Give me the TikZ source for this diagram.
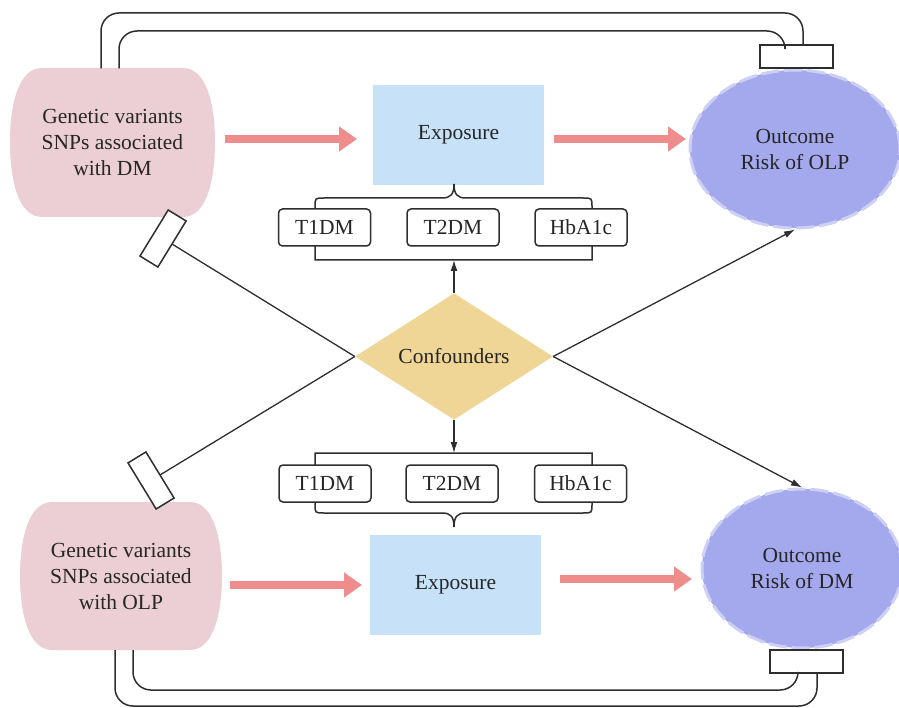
\documentclass[tikz,border=0pt]{standalone}
\usepackage{fontspec}
\setmainfont{Liberation Serif}
\usetikzlibrary{shapes.geometric,arrows.meta,calc}
\definecolor{pinkfill}{HTML}{EBCFD4}
\definecolor{pinkarrow}{HTML}{EF8C8C}
\definecolor{bluefill}{HTML}{C6E1F8}
\definecolor{goldfill}{HTML}{EFD696}
\definecolor{lavfill}{HTML}{A4A9EE}
\definecolor{lavborder}{HTML}{CDD0F5}
\definecolor{ink}{HTML}{262626}
\definecolor{linec}{HTML}{2E2E2E}
\begin{document}
\begin{tikzpicture}[x=1pt,y=-1pt,
  every node/.style={text=ink, font=\fontsize{21.5}{26}\selectfont, inner sep=0pt},
  gen/.style={minimum width=204, minimum height=148, align=center},
  expo/.style={fill=bluefill, minimum width=171, minimum height=100},
  outc/.style={ellipse, fill=lavfill, draw=lavborder, line width=3pt, dash pattern=on 18pt off 5pt, align=center},
  tagbox/.style={draw=linec, fill=white, line width=1.5pt, rounded corners=4pt, minimum width=92, minimum height=37},
  endbox/.style={draw=linec, fill=white, line width=1.5pt, minimum width=73, minimum height=23},
  fat/.style={pinkarrow, line width=8pt, -{Triangle[length=18pt,width=24pt]}},
  thin/.style={linec, line width=1.3pt},
  thinarrow/.style={thin, -{Latex[length=11pt,width=7pt]}},
  bracket/.style={linec, line width=1.5pt},
  loopline/.style={linec, line width=1.5pt, rounded corners=18pt}]
\useasboundingbox (0,0) rectangle (899,708);

% pink shapes
\fill[pinkfill] (42,68) -- (183,68) .. controls (205,68) and (215,100) .. (215,142)
  .. controls (215,185) and (205,217) .. (183,217) -- (42,217)
  .. controls (20,217) and (10,185) .. (10,142) .. controls (10,100) and (20,68) .. (42,68) -- cycle;
\fill[pinkfill] (52,502) -- (190,502) .. controls (212,502) and (222,535) .. (222,576)
  .. controls (222,617) and (212,650) .. (190,650) -- (52,650)
  .. controls (30,650) and (20,617) .. (20,576) .. controls (20,535) and (30,502) .. (52,502) -- cycle;
\node[gen] (gA) at (112.5,142.5) {Genetic variants\\SNPs associated\\with DM};
\node[gen] (gB) at (121,576) {Genetic variants\\SNPs associated\\with OLP};

% exposure boxes
\node[expo] (eA) at (458.5,135) {Exposure};
\node[expo] (eB) at (455.5,585) {Exposure};

% outcome ellipses
\node[outc, minimum width=210, minimum height=158] (oA) at (795,149) {Outcome\\Risk of OLP};
\node[outc, minimum width=200, minimum height=159] (oB) at (802,568.5) {Outcome\\Risk of DM};

% end boxes
\node[endbox] (sA) at (796.5,56.5) {};
\node[endbox] (sB) at (806.5,661.5) {};

% loop lines
\draw[loopline] ($(gA.north)+(-11.5,0)$) -- (101,13) -- (803,13) -- ($(sA.north)+(6.5,0)$);
\draw[loopline] ($(gA.north)+(6.5,0)$) -- (119,31) -- (785,31) -- ($(sA.north)+(-11.5,0)$);
\draw[loopline] ($(gB.south)+(-6,0)$) -- (115,706) -- (817,706) -- ($(sB.south)+(10.5,0)$);
\draw[loopline] ($(gB.south)+(12,0)$) -- (133,690) -- (798,690) -- ($(sB.south)+(-8.5,0)$);

% pink arrows
\coordinate (pa1) at (225,139); \coordinate (pa2) at (357,139);
\coordinate (pa3) at (554,139); \coordinate (pa4) at (686,139);
\coordinate (pb1) at (230,585); \coordinate (pb2) at (362,585);
\coordinate (pb3) at (560,579); \coordinate (pb4) at (692,579);
\draw[fat] (pa1) -- (pa2);
\draw[fat] (pa3) -- (pa4);
\draw[fat] (pb1) -- (pb2);
\draw[fat] (pb3) -- (pb4);

% brackets
\draw[bracket] (315,260) -- (315,207) .. controls (315,198) .. (324,198) -- (442,198)
  .. controls (451,198) and (454,194) .. (454,184) .. controls (454,194) and (457,198) .. (466,198)
  -- (583,198) .. controls (592,198) .. (592,207) -- (592,260) -- cycle;
\draw[bracket] (315,453) -- (592,453) -- (592,504) .. controls (592,513) .. (583,513) -- (466,513)
  .. controls (457,513) and (454,517) .. (454,527) .. controls (454,517) and (451,513) .. (442,513)
  -- (324,513) .. controls (315,513) .. (315,504) -- cycle;
\coordinate (brA) at (454,260);
\coordinate (brB) at (454,453);

% tag boxes
\node[tagbox] (t1a) at (324.5,227.5) {T1DM};
\node[tagbox] (t2a) at (453,227.5) {T2DM};
\node[tagbox] (hba) at (581,227.5) {HbA1c};
\node[tagbox] (t1b) at (325,483.5) {T1DM};
\node[tagbox] (t2b) at (452,483.5) {T2DM};
\node[tagbox] (hbb) at (580.5,483.5) {HbA1c};

% confounders
\node[diamond, fill=goldfill, minimum width=198, minimum height=117] (conf) at (454,356.5) {Confounders};

% connectors
\draw[thinarrow] (conf.north) -- (brA);
\draw[thinarrow] (conf.south) -- (brB);
\draw[thinarrow] (conf.east) -- (oA.south);
\draw[thinarrow] (conf.east) -- (oB.north);

\coordinate (tlend) at (172,244);
\coordinate (blend) at (160,475);
\draw[thin] (conf.west) -- (tlend);
\draw[thin] (conf.west) -- (blend);
\begin{scope}[shift={(tlend)}, rotate=-31.5]
  \draw[linec, line width=1.5pt, fill=white] (-21,-27) rectangle (0,27);
\end{scope}
\begin{scope}[shift={(blend)}, rotate=31.4]
  \draw[linec, line width=1.5pt, fill=white] (-21,-27) rectangle (0,27);
\end{scope}
\end{tikzpicture}
\end{document}
